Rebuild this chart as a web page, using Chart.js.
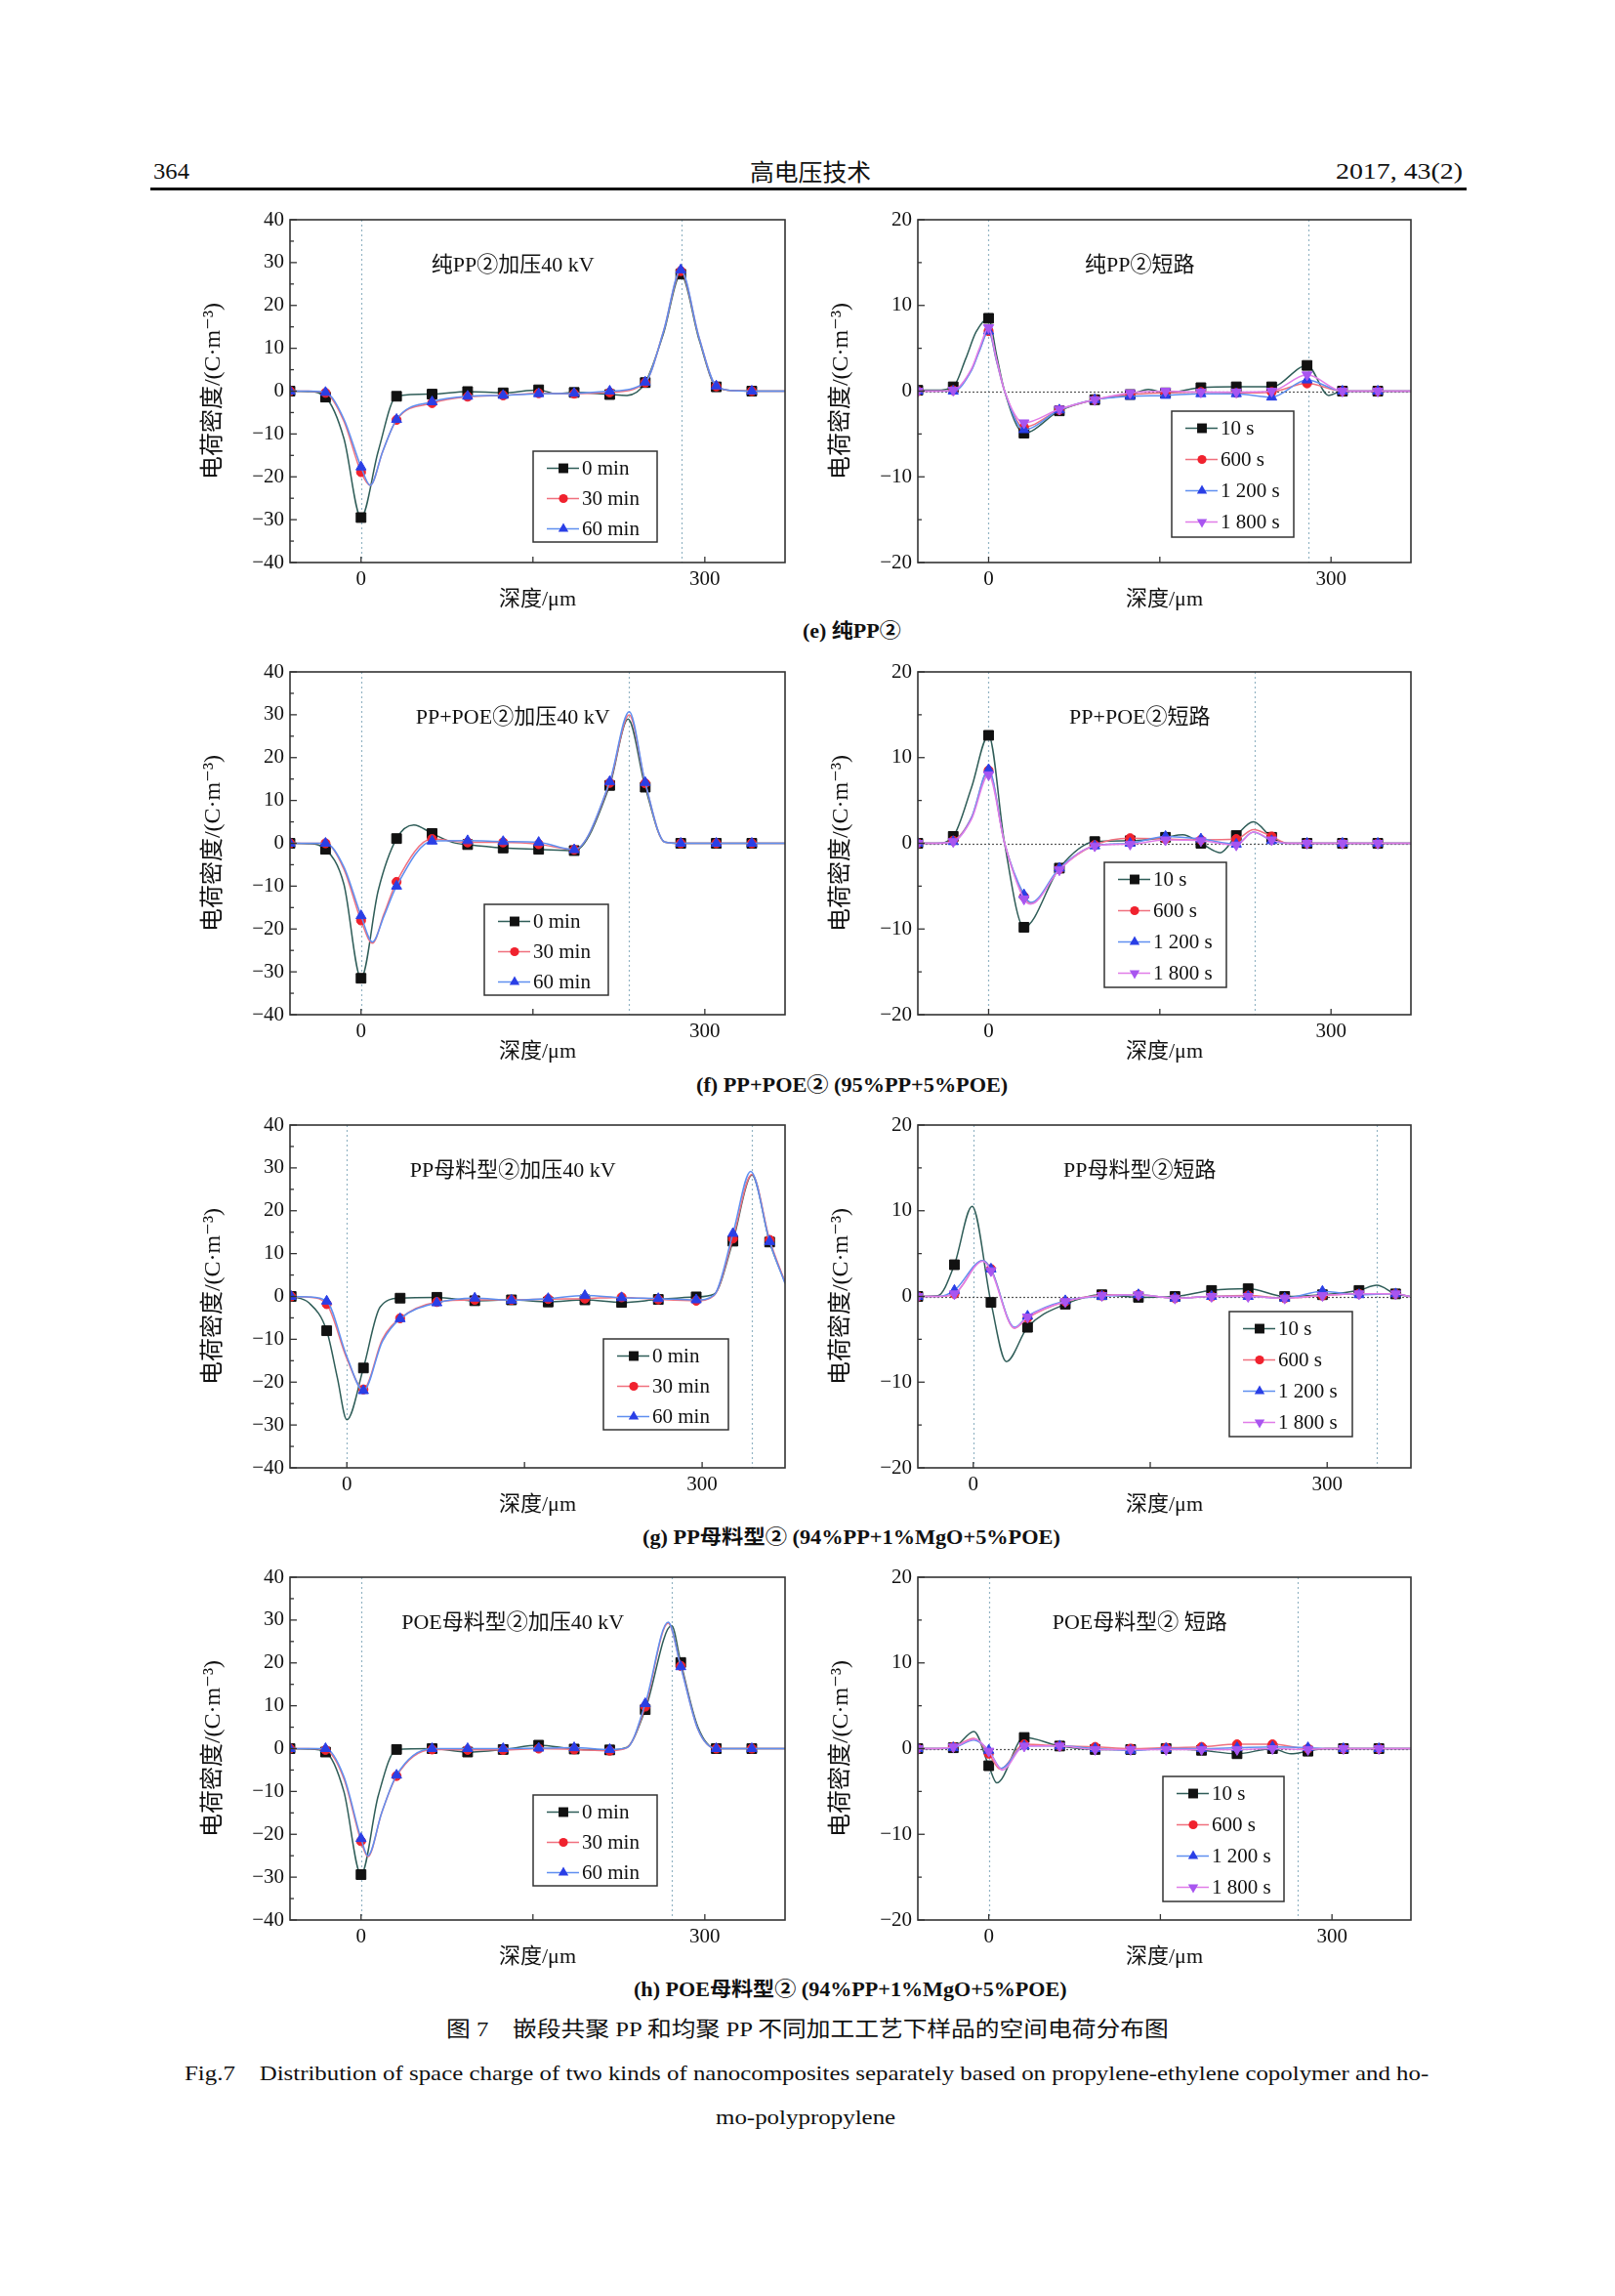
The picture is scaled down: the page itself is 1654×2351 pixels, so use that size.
<!DOCTYPE html>
<html>
<head>
<meta charset="utf-8">
<script src="https://cdn.jsdelivr.net/npm/chart.js@4.4.0/dist/chart.umd.min.js"></script>
<style>
html, body { margin: 0; padding: 0; background: #fff; }
body { position: relative; width: 1654px; height: 2351px; overflow: hidden; color: #111;
  font-family: 'Liberation Serif', 'DejaVu Serif', 'Noto Sans CJK SC', serif; }
.t { position: absolute; white-space: nowrap; line-height: 1.2; transform-origin: 0 50%; }
.rule { position: absolute; left: 154px; top: 192px; width: 1348px; height: 3px; background: #111; }
</style>
</head>
<body>
<div class="t" data-l="157" data-w="37" data-cy="175" style="font-size:24px">364</div>
<div class="t" data-cx="830" data-w="124" data-cy="175" style="font-size:24px;font-family:'Noto Sans CJK SC'">高电压技术</div>
<div class="t" data-r="1498" data-w="130" data-cy="175" style="font-size:24px">2017, 43(2)</div>
<div class="rule"></div>

<div class="t" data-cx="872" data-w="101" data-cy="646" style="font-size:20px;font-weight:bold">(e) 纯PP②</div>
<div class="t" data-cx="872" data-w="319" data-cy="1111" style="font-size:20px;font-weight:bold">(f) PP+POE② (95%PP+5%POE)</div>
<div class="t" data-cx="872" data-w="428" data-cy="1574" style="font-size:20px;font-weight:bold">(g) PP母料型② (94%PP+1%MgO+5%POE)</div>
<div class="t" data-cx="871" data-w="444" data-cy="2037" style="font-size:20px;font-weight:bold">(h) POE母料型② (94%PP+1%MgO+5%POE)</div>
<div class="t" data-cx="827" data-w="740" data-cy="2078" style="font-size:22px">图 7　嵌段共聚 PP 和均聚 PP 不同加工工艺下样品的空间电荷分布图</div>
<div class="t" data-cx="826" data-w="1274" data-cy="2123" style="font-size:21px">Fig.7　Distribution of space charge of two kinds of nanocomposites separately based on propylene-ethylene copolymer and ho-</div>
<div class="t" data-cx="825" data-w="184" data-cy="2168" style="font-size:21px">mo-polypropylene</div>

<script>
// depth grids where the markers sit (μm)
var depthA = [-62, -31, 0, 31, 62, 93, 124, 155, 186, 217, 248, 279, 310, 341];
var depthGL = [-47, -17, 14, 45, 76, 108, 139, 170, 201, 232, 263, 295, 326, 357];
var depthGR = [-47, -16, 15, 46, 78, 109, 140, 171, 202, 233, 264, 296, 327, 358];
var xTicks = [0, 150, 300];
var yTicksOn = [-40, -30, -20, -10, 0, 10, 20, 30, 40];
var yTicksOff = [-20, -10, 0, 10, 20];
var labelsOn = ['0 min', '30 min', '60 min'];
var labelsOff = ['10 s', '600 s', '1 200 s', '1 800 s'];

// (e) pure PP, 40 kV
var eL_0min = [0, -1.4, -29.5, -1.2, -0.7, -0.1, -0.4, 0.3, -0.3, -0.8, 2.0, 27.3, 1.0, 0];
var eL_0min_x = [[-46, -0.1], [-15, -11], [15, -14], [170, -0.6], [232, -1.0], [264, 13.5], [295, 12], [326, 0.1], [370, 0]];
var eL_30min = [0, -0.4, -18.9, -6.7, -2.8, -1.3, -1.0, -0.5, -0.6, -0.3, 2.0, 28.0, 1.1, 0];
var eL_30min_x = [[-46, 0], [-15, -7], [8, -22], [19, -14], [264, 14], [295, 12.5], [326, 0.1], [370, 0]];
var eL_60min = [0, -0.3, -17.7, -6.6, -2.5, -1.2, -1.0, -0.6, -0.5, 0.0, 2.1, 28.3, 1.2, 0];
var eL_60min_x = [[-46, 0], [-15, -6.5], [8, -22], [19, -14], [264, 14], [295, 12.5], [326, 0.1], [370, 0]];
// (e) pure PP, short circuit
var eR_10s = [0.1, 0.5, 8.5, -4.9, -2.3, -1.0, -0.4, -0.2, 0.4, 0.5, 0.5, 3.0, 0.0, 0];
var eR_10s_x = [[-46, 0.1], [-20, 3.8], [-11, 6.9], [7, 4.2], [14, 0], [140, 0.2], [298, -0.5], [326, 0], [370, 0]];
var eR_600s = [0, 0.1, 7.0, -4.2, -2.2, -1.0, -0.4, -0.2, -0.1, -0.2, -0.1, 0.9, 0.0, 0];
var eR_600s_x = [[-46, 0], [-15, 2.5], [-8, 4.8], [7, 3.5], [14, 0], [326, 0], [370, 0]];
var eR_1200s = [0, 0.0, 7.0, -4.5, -2.2, -1.0, -0.6, -0.5, -0.3, -0.3, -0.7, 1.3, 0.0, 0];
var eR_1200s_x = [[-46, 0], [-15, 2.4], [-8, 4.7], [7, 3.5], [14, 0], [326, 0], [370, 0]];
var eR_1800s = [0, 0.1, 7.4, -3.7, -2.1, -1.0, -0.2, 0.0, -0.1, -0.1, 0.0, 1.9, 0.0, 0];
var eR_1800s_x = [[-46, 0], [-15, 2.6], [-8, 5.0], [7, 3.7], [14, 0], [326, 0], [370, 0]];

// (f) PP+POE, 40 kV
var fL_0min = [0, -1.4, -31.5, 1.1, 2.3, -0.3, -1.1, -1.4, -1.7, 13.5, 13.1, 0, 0, 0];
var fL_0min_x = [[-46, -0.1], [-15, -9.5], [15, -11], [46, 4.3], [80, 0.2], [233, 29], [265, 0.3], [370, 0]];
var fL_30min = [0, 0, -18.0, -9.0, 1.0, 0.2, 0.2, -0.2, -1.5, 14.1, 14.0, 0, 0, 0];
var fL_30min_x = [[-46, 0], [-15, -6], [10, -23.3], [20, -16.5], [234, 30], [265, 0.3], [370, 0]];
var fL_60min = [0, 0, -16.9, -10.0, 0.5, 0.6, 0.4, 0.2, -1.5, 14.4, 14.2, 0, 0, 0];
var fL_60min_x = [[-46, 0], [-15, -5.5], [10, -23], [20, -17], [234, 30.7], [265, 0.3], [370, 0]];
// (f) PP+POE, short circuit
var fR_10s = [0, 0.8, 12.6, -9.8, -2.9, 0.2, 0.3, 0.7, 0.0, 0.9, 0.7, 0, 0, 0];
var fR_10s_x = [[-46, 0], [-15, 6.5], [14, 0], [170, 1.0], [203, -1.1], [232, 2.5], [262, 0], [370, 0]];
var fR_600s = [0, 0.3, 8.5, -6.2, -3.0, -0.2, 0.6, 0.5, 0.4, 0.5, 0.8, 0, 0, 0];
var fR_600s_x = [[-46, 0], [-15, 3], [14, 0], [37, -7], [232, 1.6], [262, 0], [370, 0]];
var fR_1200s = [0, 0.2, 8.6, -6.0, -2.9, -0.3, 0.0, 0.8, 0.5, -0.1, 0.3, 0, 0, 0];
var fR_1200s_x = [[-46, 0], [-15, 3], [14, 0], [37, -6.9], [232, 1.3], [262, 0], [370, 0]];
var fR_1800s = [0, 0.2, 8.0, -6.5, -3.1, -0.3, -0.1, 0.4, 0.3, -0.2, 0.4, 0, 0, 0];
var fR_1800s_x = [[-46, 0], [-15, 2.8], [14, 0], [37, -7.1], [232, 1.3], [262, 0], [370, 0]];

// (g) PP masterbatch, 40 kV
var gL_0min = [0, -8.0, -16.7, -0.4, -0.2, -1.0, -0.8, -1.3, -0.8, -1.4, -0.7, -0.1, 12.9, 12.7];
var gL_0min_x = [[-32, -1.5], [-8, -19], [0, -28.8], [28, -2.5], [310, 0.5], [342, 28.3], [370, 3.3]];
var gL_30min = [0, -1.8, -21.7, -5.1, -1.3, -0.8, -0.8, -0.6, -0.5, -0.2, -0.7, -1.0, 13.5, 13.2];
var gL_30min_x = [[-32, -0.2], [0, -14.5], [30, -10], [310, 0.2], [342, 28.5], [370, 3.3]];
var gL_60min = [0, -1.1, -22.0, -5.2, -1.5, -0.4, -0.9, -0.5, 0.2, -0.3, -0.5, -0.8, 14.7, 12.8];
var gL_60min_x = [[-32, -0.1], [0, -14], [30, -10.5], [310, 0.3], [341, 29.2], [370, 3.0]];
// (g) PP masterbatch, short circuit
var gR_10s = [0, 3.7, -0.7, -3.6, -0.9, 0.2, -0.1, 0.0, 0.7, 0.9, 0.0, 0.2, 0.7, 0.3];
var gR_10s_x = [[-30, 0.1], [-1, 10.5], [28, -7.6], [342, 1.3], [370, 0]];
var gR_600s = [0, 0.3, 3.2, -2.5, -0.6, 0.1, 0.2, -0.2, 0.0, 0.1, -0.2, 0.1, 0.3, 0.3];
var gR_600s_x = [[-30, 0], [8, 4.2], [35, -3.7], [370, 0]];
var gR_1200s = [0, 0.7, 3.2, -2.3, -0.5, 0.0, 0.2, -0.2, 0.0, 0.0, -0.2, 0.6, 0.2, 0.3];
var gR_1200s_x = [[-30, 0], [8, 4.2], [35, -3.6], [370, 0]];
var gR_1800s = [0, 0.3, 3.0, -2.4, -0.6, 0.1, 0.2, -0.2, 0.0, 0.0, -0.2, 0.1, 0.3, 0.3];
var gR_1800s_x = [[-30, 0], [8, 4.1], [35, -3.7], [370, 0]];

// (h) POE masterbatch, 40 kV
var hL_0min = [0, -0.8, -29.4, -0.2, 0.0, -0.8, -0.2, 0.8, -0.1, -0.3, 9.1, 20.1, 0, 0];
var hL_0min_x = [[-46, -0.1], [-15, -10], [15, -11], [232, 0.3], [271, 28.7], [294, 5], [326, 0], [370, 0]];
var hL_30min = [0, -0.3, -21.6, -6.4, -0.2, -0.3, -0.3, 0.0, -0.2, -0.5, 9.8, 19.3, 0, 0];
var hL_30min_x = [[-46, 0], [-15, -7], [6, -25.2], [18, -15], [232, 0.2], [268, 29.3], [294, 4.5], [326, 0], [370, 0]];
var hL_60min = [0, 0.0, -21.0, -6.2, 0.0, 0.0, 0.0, 0.1, 0.2, -0.2, 10.5, 19.1, 0, 0];
var hL_60min_x = [[-46, 0], [-15, -6.5], [6, -25], [18, -15], [232, 0.2], [268, 29.5], [294, 4.5], [326, 0], [370, 0]];
// (h) POE masterbatch, short circuit
var hR_10s = [0, 0.1, -2.0, 1.3, 0.3, -0.1, -0.1, 0.0, -0.2, -0.6, 0.0, -0.3, 0, 0];
var hR_10s_x = [[-46, 0], [-13, 2.0], [7, -4.0], [264, -0.6], [294, 0], [370, 0]];
var hR_600s = [0, 0.2, -0.6, 0.5, 0.3, 0.2, 0.0, 0.1, 0.2, 0.5, 0.5, 0, 0, 0];
var hR_600s_x = [[-46, 0], [-13, 1.2], [10, -2.4], [294, 0], [370, 0]];
var hR_1200s = [0, 0.1, -0.2, 0.3, 0.3, 0.0, -0.2, 0.0, 0.0, 0.1, 0.2, 0.1, 0, 0];
var hR_1200s_x = [[-46, 0], [-13, 1.0], [11, -2.3], [294, 0], [370, 0]];
var hR_1800s = [0, 0.2, -0.3, 0.3, 0.3, -0.1, -0.1, -0.1, -0.1, -0.1, 0.0, -0.1, 0, 0];
var hR_1800s_x = [[-46, 0], [-12, 1.1], [12, -2.5], [294, 0], [370, 0]];

var FONT = "'Liberation Serif', 'DejaVu Serif', 'Noto Sans CJK SC', serif";
var STYLES = [
  {pt: 'rect', r: 7, fill: '#111111', line: '#2f5d58'},
  {pt: 'circle', r: 4.6, fill: '#f0222e', line: '#f0707e'},
  {pt: 'triangle', r: 6, fill: '#2a3fe6', line: '#5f8ff0'},
  {pt: 'triangle', rot: 180, r: 6, fill: '#a855f0', line: '#e07ce8'}
];

function fmt(v) { return v < 0 ? '\u2212' + Math.abs(v) : String(v); }

function series(depth, vals, extra) {
  var pts = depth.map(function(x, i) { return {x: x, y: vals[i], m: true}; });
  extra.forEach(function(p) { pts.push({x: p[0], y: p[1], m: false}); });
  pts.sort(function(a, b) { return a.x - b.x; });
  return pts;
}

function drawMark(ctx, st, x, y) {
  var r = st.r;
  ctx.fillStyle = st.fill;
  ctx.beginPath();
  if (st.pt === 'rect') {
    var s = r * Math.SQRT1_2;
    ctx.rect(x - s, y - s, 2 * s, 2 * s);
  } else if (st.pt === 'circle') {
    ctx.arc(x, y, r, 0, Math.PI * 2);
  } else {
    var d = st.rot ? -1 : 1;
    ctx.moveTo(x, y - d * r);
    ctx.lineTo(x + r * 0.866, y + d * r * 0.5);
    ctx.lineTo(x - r * 0.866, y + d * r * 0.5);
    ctx.closePath();
  }
  ctx.fill();
}

function makeDeco(c) {
  return {
    id: 'deco',
    beforeDatasetsDraw: function(chart) {
      var ctx = chart.ctx, a = chart.chartArea, xs = chart.scales.x, ys = chart.scales.y;
      ctx.save();
      ctx.lineWidth = 1.2;
      ctx.setLineDash([2, 3]);
      ctx.strokeStyle = '#93b4c4';
      c.vlines.forEach(function(v) {
        var px = Math.round(xs.getPixelForValue(v)) + 0.5;
        ctx.beginPath(); ctx.moveTo(px, a.top); ctx.lineTo(px, a.bottom); ctx.stroke();
      });
      if (c.hzero) {
        ctx.strokeStyle = '#555';
        ctx.setLineDash([2, 2]);
        var py = Math.round(ys.getPixelForValue(0)) + 0.5;
        ctx.beginPath(); ctx.moveTo(a.left, py); ctx.lineTo(a.right, py); ctx.stroke();
      }
      ctx.restore();
    },
    afterDraw: function(chart) {
      var ctx = chart.ctx, a = chart.chartArea, xs = chart.scales.x, ys = chart.scales.y;
      var w = a.right - a.left, h = a.bottom - a.top;
      ctx.save();
      // frame
      ctx.strokeStyle = '#333';
      ctx.lineWidth = 1.6;
      ctx.strokeRect(a.left, a.top, w, h);
      // inward ticks, minor every 5
      ctx.lineWidth = 1.3;
      for (var v = c.yr[0]; v <= c.yr[1]; v += 5) {
        var py = ys.getPixelForValue(v), len = v % 10 === 0 ? 7 : 4;
        ctx.beginPath(); ctx.moveTo(a.left, py); ctx.lineTo(a.left + len, py); ctx.stroke();
      }
      xTicks.forEach(function(t) {
        var px = xs.getPixelForValue(t);
        ctx.beginPath(); ctx.moveTo(px, a.bottom); ctx.lineTo(px, a.bottom - 6); ctx.stroke();
      });
      // panel title
      ctx.fillStyle = '#111';
      ctx.font = '22px ' + FONT;
      ctx.textAlign = 'center';
      ctx.textBaseline = 'middle';
      ctx.fillText(c.title, a.left + 0.45 * w, a.top + 0.135 * h);
      // legend box
      var L = c.legend, bx = a.left + L[0], by = a.top + L[1];
      ctx.fillStyle = '#fff';
      ctx.fillRect(bx, by, L[2], L[3]);
      ctx.strokeStyle = '#333';
      ctx.lineWidth = 1.5;
      ctx.strokeRect(bx, by, L[2], L[3]);
      var step = c.labels.length === 4 ? 32 : 31;
      c.labels.forEach(function(lab, i) {
        var st = STYLES[i], y = by + 17.5 + i * step;
        ctx.strokeStyle = st.line;
        ctx.lineWidth = 1.5;
        ctx.beginPath(); ctx.moveTo(bx + 14, y); ctx.lineTo(bx + 47, y); ctx.stroke();
        drawMark(ctx, st, bx + 31, y);
        ctx.fillStyle = '#111';
        ctx.font = '21px ' + FONT;
        ctx.textAlign = 'left';
        ctx.fillText(lab, bx + 50, y + 1);
      });
      ctx.restore();
    }
  };
}

function makeChart(c) {
  var pad = {l: 110, t: 30, r: 14, b: 62};
  var cv = document.createElement('canvas');
  cv.width = c.rect[2] + pad.l + pad.r;
  cv.height = c.rect[3] + pad.t + pad.b;
  cv.style.position = 'absolute';
  cv.style.left = (c.rect[0] - pad.l) + 'px';
  cv.style.top = (c.rect[1] - pad.t) + 'px';
  document.body.appendChild(cv);
  var n = c.data.length;
  var datasets = c.data.map(function(d, i) {
    var st = STYLES[i];
    return {
      label: c.labels[i], data: d, order: n - i,
      borderColor: st.line, borderWidth: 1.5, backgroundColor: st.fill,
      pointStyle: st.pt, pointRotation: st.rot || 0,
      pointBackgroundColor: st.fill, pointBorderColor: st.fill, pointBorderWidth: 1,
      pointRadius: function(ctx) { return ctx.raw && ctx.raw.m ? st.r : 0; },
      cubicInterpolationMode: 'monotone', clip: 0
    };
  });
  new Chart(cv, {
    type: 'line',
    data: {datasets: datasets},
    options: {
      responsive: false, animation: false, events: [],
      layout: {padding: {left: 0, top: pad.t, right: pad.r, bottom: 0}},
      plugins: {legend: {display: false}, tooltip: {enabled: false}},
      scales: {
        x: {
          type: 'linear', min: c.xr[0], max: c.xr[1],
          afterBuildTicks: function(s) { s.ticks = xTicks.map(function(v) { return {value: v}; }); },
          afterFit: function(s) { s.height = pad.b; },
          grid: {display: false, drawTicks: false}, border: {display: false},
          ticks: {padding: 5, color: '#111', font: {family: FONT, size: 21}, maxRotation: 0, autoSkip: false,
            callback: function(v) { return v === 150 ? '' : fmt(v); }},
          title: {display: true, text: '深度/μm', color: '#111', font: {family: FONT, size: 22},
            padding: {top: 0, bottom: 11}}
        },
        y: {
          type: 'linear', min: c.yr[0], max: c.yr[1],
          afterBuildTicks: function(s) { s.ticks = c.yticks.map(function(v) { return {value: v}; }); },
          afterFit: function(s) { s.width = pad.l; },
          grid: {display: false, drawTicks: false}, border: {display: false},
          ticks: {padding: 6, color: '#111', font: {family: FONT, size: 21}, autoSkip: false,
            callback: function(v) { return fmt(v); }},
          title: {display: true, text: '电荷密度/(C·m⁻³)', color: '#111', font: {family: FONT, size: 24},
            padding: {top: 17, bottom: 0}}
        }
      }
    },
    plugins: [makeDeco(c)]
  });
}

var colL = [297, 507], colR = [940, 505];
var rowE = [225, 351], rowF = [688, 351], rowG = [1152, 351], rowH = [1615, 351];
function rect(col, row) { return [col[0], row[0], col[1], row[1]]; }

var panels = [
  {rect: rect(colL, rowE), xr: [-62, 370], yr: [-40, 40], yticks: yTicksOn, vlines: [0, 280], hzero: false,
    title: '纯PP②加压40 kV', labels: labelsOn, legend: [249, 237, 127, 93],
    data: [series(depthA, eL_0min, eL_0min_x), series(depthA, eL_30min, eL_30min_x), series(depthA, eL_60min, eL_60min_x)]},
  {rect: rect(colR, rowE), xr: [-62, 370], yr: [-20, 20], yticks: yTicksOff, vlines: [0, 280], hzero: true,
    title: '纯PP②短路', labels: labelsOff, legend: [260, 196, 125, 129],
    data: [series(depthA, eR_10s, eR_10s_x), series(depthA, eR_600s, eR_600s_x), series(depthA, eR_1200s, eR_1200s_x), series(depthA, eR_1800s, eR_1800s_x)]},
  {rect: rect(colL, rowF), xr: [-62, 370], yr: [-40, 40], yticks: yTicksOn, vlines: [0, 234], hzero: false,
    title: 'PP+POE②加压40 kV', labels: labelsOn, legend: [199, 238, 127, 93],
    data: [series(depthA, fL_0min, fL_0min_x), series(depthA, fL_30min, fL_30min_x), series(depthA, fL_60min, fL_60min_x)]},
  {rect: rect(colR, rowF), xr: [-62, 370], yr: [-20, 20], yticks: yTicksOff, vlines: [0, 233], hzero: true,
    title: 'PP+POE②短路', labels: labelsOff, legend: [191, 195, 125, 128],
    data: [series(depthA, fR_10s, fR_10s_x), series(depthA, fR_600s, fR_600s_x), series(depthA, fR_1200s, fR_1200s_x), series(depthA, fR_1800s, fR_1800s_x)]},
  {rect: rect(colL, rowG), xr: [-48, 370], yr: [-40, 40], yticks: yTicksOn, vlines: [0, 342], hzero: false,
    title: 'PP母料型②加压40 kV', labels: labelsOn, legend: [321, 219, 128, 93],
    data: [series(depthGL, gL_0min, gL_0min_x), series(depthGL, gL_30min, gL_30min_x), series(depthGL, gL_60min, gL_60min_x)]},
  {rect: rect(colR, rowG), xr: [-47, 371], yr: [-20, 20], yticks: yTicksOff, vlines: [0, 342], hzero: true,
    title: 'PP母料型②短路', labels: labelsOff, legend: [319, 191, 126, 128],
    data: [series(depthGR, gR_10s, gR_10s_x), series(depthGR, gR_600s, gR_600s_x), series(depthGR, gR_1200s, gR_1200s_x), series(depthGR, gR_1800s, gR_1800s_x)]},
  {rect: rect(colL, rowH), xr: [-62, 370], yr: [-40, 40], yticks: yTicksOn, vlines: [0, 271], hzero: false,
    title: 'POE母料型②加压40 kV', labels: labelsOn, legend: [249, 223, 127, 93],
    data: [series(depthA, hL_0min, hL_0min_x), series(depthA, hL_30min, hL_30min_x), series(depthA, hL_60min, hL_60min_x)]},
  {rect: rect(colR, rowH), xr: [-62, 369], yr: [-20, 20], yticks: yTicksOff, vlines: [0, 270], hzero: true,
    title: 'POE母料型② 短路', labels: labelsOff, legend: [251, 204, 124, 128],
    data: [series(depthA, hR_10s, hR_10s_x), series(depthA, hR_600s, hR_600s_x), series(depthA, hR_1200s, hR_1200s_x), series(depthA, hR_1800s, hR_1800s_x)]}
];
panels.forEach(makeChart);

// squeeze page texts to the widths they have on the scanned page
document.querySelectorAll('.t').forEach(function(el) {
  var w0 = el.offsetWidth, h0 = el.offsetHeight, w = +el.dataset.w;
  el.style.transform = 'scaleX(' + (w / w0) + ')';
  var left = el.dataset.cx ? +el.dataset.cx - w / 2 : (el.dataset.r ? +el.dataset.r - w : +el.dataset.l);
  el.style.left = left + 'px';
  el.style.top = (+el.dataset.cy - h0 / 2) + 'px';
});
</script>
</body>
</html>
